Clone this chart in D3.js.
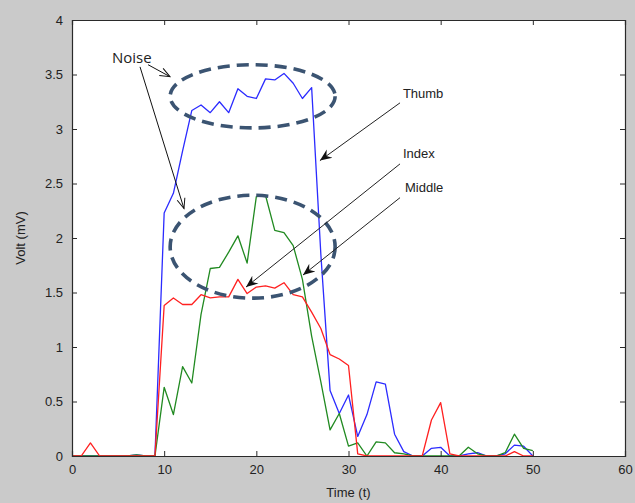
<!DOCTYPE html>
<html>
<head>
<meta charset="utf-8">
<script src="https://cdn.jsdelivr.net/npm/d3@7"></script>
<style>
  html, body { margin: 0; padding: 0; background: #cacaca; }
  svg { display: block; }
  text { font-family: "Liberation Sans", Arial, sans-serif; }
</style>
</head>
<body>
<svg id="chart" width="635" height="503"></svg>
<script>
// ---- data ----
const time = d3.range(0, 51);
const thumb = [0,0,0,0,0,0,0,0.01,0,0,
  2.23,2.41,2.8,3.17,3.22,3.15,3.25,3.15,3.37,3.3,
  3.28,3.46,3.45,3.51,3.42,3.28,3.38,1.85,0.6,0.39,
  0.56,0.18,0.38,0.68,0.66,0.2,0.04,0,0,0.07,
  0.08,0,0,0.02,0.03,0,0,0.02,0.1,0.09,0];
const middle = [0,0,0,0,0,0,0,0.01,0,0,
  0.63,0.38,0.82,0.67,1.3,1.72,1.73,1.87,2.02,1.77,
  2.38,2.39,2.07,2.05,1.93,1.62,1.1,0.68,0.24,0.39,
  0.09,0.12,0,0.13,0.12,0.03,0.02,0,0,0,
  0,0,0,0.08,0.02,0,0,0.03,0.2,0.07,0.05];
const index = [0,0,0.12,0,0,0,0,0,0,0,
  1.38,1.45,1.39,1.39,1.48,1.45,1.46,1.46,1.62,1.49,
  1.55,1.56,1.54,1.59,1.48,1.46,1.32,1.17,0.93,0.89,
  0.83,0.02,0,0,0,0,0,0,0,0.33,
  0.49,0.02,0,0,0,0,0,0,0.04,0,0];
const xTicks = [0,10,20,30,40,50,60];
const yTicks = [0,0.5,1,1.5,2,2.5,3,3.5,4];
const seriesNames = ["Thumb","Middle","Index"];
const seriesColors = ["#2b2bff","#218a21","#ff2020"];

// annotations in data units
const ellipses = [ {cx:19.6, cy:3.30, rx:8.95, ry:0.29}, {cx:19.6, cy:1.92, rx:8.95, ry:0.472} ];
const labels = [
  {text:"Noise", x:4.34, y:3.61, size:15},
  {text:"Thumb", x:35.9, y:3.28, size:13},
  {text:"Index", x:35.9, y:2.73, size:13},
  {text:"Middle", x:36.13, y:2.42, size:13}
];
const openArrows = [ {x1:8.25,y1:3.59,x2:10.63,y2:3.48}, {x1:7.38,y1:3.57,x2:12.15,y2:2.27} ];
const filledArrows = [
  {x1:35.59,y1:3.24,x2:26.9,y2:2.71},
  {x1:35.59,y1:2.68,x2:18.88,y2:1.55},
  {x1:35.59,y1:2.37,x2:25.06,y2:1.66}
];

// ---- layout ----
const W = 635, H = 503;
const L = 72, T = 20, R = 625, B = 456;
const svg = d3.select("#chart");
svg.append("rect").attr("width", W).attr("height", H).attr("fill", "#cacaca");
svg.append("rect").attr("x", L).attr("y", T).attr("width", R - L).attr("height", B - T).attr("fill", "#ffffff");

const x = d3.scaleLinear().domain([0, 60]).range([L, R]);
const y = d3.scaleLinear().domain([0, 4]).range([B, T]);

const defs = svg.append("defs");
defs.append("marker").attr("id","filled").attr("viewBox","-12 -6 14 12")
  .attr("markerUnits","userSpaceOnUse").attr("markerWidth",14).attr("markerHeight",12)
  .attr("refX",0).attr("refY",0).attr("orient","auto")
  .append("path").attr("d","M0,0 L-12,-5 L-8,0 L-12,5 Z").attr("fill","#111");
defs.append("marker").attr("id","open").attr("viewBox","-12 -6 14 12")
  .attr("markerUnits","userSpaceOnUse").attr("markerWidth",14).attr("markerHeight",12)
  .attr("refX",0).attr("refY",0).attr("orient","auto")
  .append("path").attr("d","M-10,-4 L0,0 L-10,4").attr("fill","none").attr("stroke","#111").attr("stroke-width",1);
defs.append("clipPath").attr("id","clip").append("rect")
  .attr("x", L).attr("y", T).attr("width", R - L).attr("height", B - T);

// ---- lines ----
const seriesData = [thumb, middle, index];
const line = d3.line().x((d, i) => x(time[i])).y(d => y(d));
const plot = svg.append("g").attr("clip-path","url(#clip)");
seriesData.forEach((vals, k) => {
  plot.append("path").datum(vals)
    .attr("d", line)
    .attr("fill","none")
    .attr("stroke", seriesColors[k])
    .attr("stroke-width", 1.3)
    .attr("stroke-linejoin","round")
    .attr("class", seriesNames[k]);
});

// ---- axes (MATLAB-style box with inward ticks) ----
const axColor = "#2a2a2a";
const fmt = d => d3.format("~g")(d);
const gx = svg.append("g").attr("transform", `translate(0,${B})`)
  .call(d3.axisBottom(x).tickValues(xTicks).tickSize(-5).tickPadding(9).tickFormat(fmt));
const gxt = svg.append("g").attr("transform", `translate(0,${T})`)
  .call(d3.axisTop(x).tickValues(xTicks).tickSize(-5).tickFormat(""));
const gy = svg.append("g").attr("transform", `translate(${L},0)`)
  .call(d3.axisLeft(y).tickValues(yTicks).tickSize(-5).tickPadding(9).tickFormat(fmt));
const gyr = svg.append("g").attr("transform", `translate(${R},0)`)
  .call(d3.axisRight(y).tickValues(yTicks).tickSize(-5).tickFormat(""));
[gx, gxt, gy, gyr].forEach(g => {
  g.select(".domain").attr("stroke", axColor).attr("stroke-width", 1.2);
  g.selectAll(".tick line").attr("stroke", axColor);
  g.selectAll(".tick text").attr("fill", "#222").style("font-size", "13px")
    .style("font-family", '"Liberation Sans", Arial, sans-serif');
});

// axis titles
svg.append("text").attr("x", (L + R) / 2).attr("y", 497).attr("text-anchor","middle")
  .style("font-size","13px").attr("fill","#222").text("Time (t)");
svg.append("text").attr("transform", `translate(25,${(T + B) / 2}) rotate(-90)`)
  .attr("text-anchor","middle").style("font-size","13px").attr("fill","#222").text("Volt (mV)");

// ---- annotations ----
const ann = svg.append("g");
ellipses.forEach(e => {
  ann.append("ellipse")
    .attr("cx", x(e.cx)).attr("cy", y(e.cy))
    .attr("rx", x(e.rx) - x(0)).attr("ry", y(0) - y(e.ry))
    .attr("fill","none").attr("stroke","#3b5472").attr("stroke-width",3.6)
    .attr("stroke-dasharray","12,7");
});
openArrows.forEach(a => {
  ann.append("line").attr("x1", x(a.x1)).attr("y1", y(a.y1)).attr("x2", x(a.x2)).attr("y2", y(a.y2))
    .attr("stroke","#111").attr("stroke-width",1).attr("marker-end","url(#open)");
});
filledArrows.forEach(a => {
  ann.append("line").attr("x1", x(a.x1)).attr("y1", y(a.y1)).attr("x2", x(a.x2)).attr("y2", y(a.y2))
    .attr("stroke","#222").attr("stroke-width",1).attr("marker-end","url(#filled)");
});
labels.forEach(l => {
  ann.append("text").attr("x", x(l.x)).attr("y", y(l.y))
    .style("font-size", l.size + "px").attr("fill","#222")
    .style("font-family", l.text === "Noise" ? '"Open Sans", "Liberation Sans", sans-serif' : '"Liberation Sans", Arial, sans-serif')
    .text(l.text);
});
</script>
</body>
</html>
